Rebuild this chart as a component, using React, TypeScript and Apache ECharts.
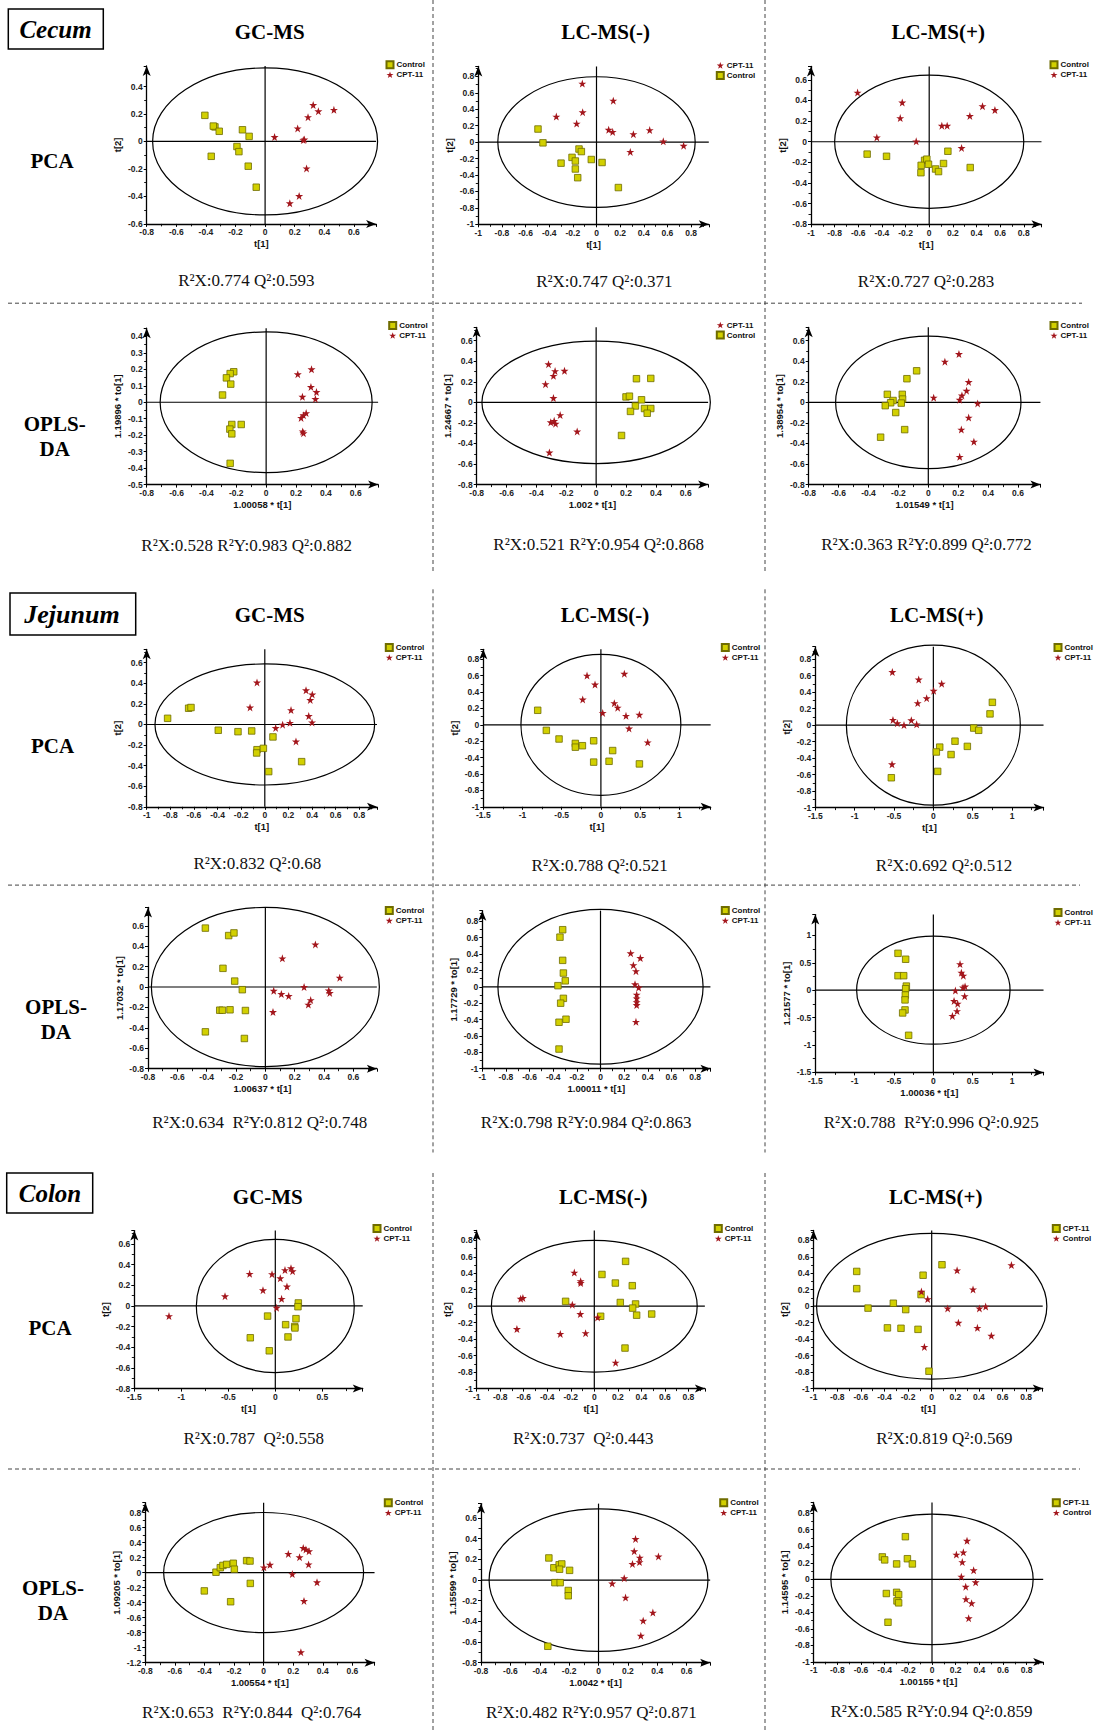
import React, { useEffect, useRef } from "react";
import * as echarts from "echarts";

// ---------------- tick label sets ----------------
const ticksM08to06 = [-0.8, -0.6, -0.4, -0.2, 0, 0.2, 0.4, 0.6];
const ticksM1to08 = [-1, -0.8, -0.6, -0.4, -0.2, 0, 0.2, 0.4, 0.6, 0.8];
const ticksM15to1 = [-1.5, -1, -0.5, 0, 0.5, 1];
const ticksM15to05 = [-1.5, -1, -0.5, 0, 0.5];
const ticksM06to04 = [-0.6, -0.4, -0.2, 0, 0.2, 0.4];
const ticksM05to04 = [-0.5, -0.4, -0.3, -0.2, -0.1, 0, 0.1, 0.2, 0.3, 0.4];
const ticksM12to08 = [-1.2, -1, -0.8, -0.6, -0.4, -0.2, 0, 0.2, 0.4, 0.6, 0.8];

// ---------------- text ----------------
const sections = ["Cecum", "Jejunum", "Colon"];
const platforms = ["GC-MS", "LC-MS(-)", "LC-MS(+)"];
const statsText = [
  "R²X:0.774 Q²:0.593", "R²X:0.528 R²Y:0.983 Q²:0.882",
  "R²X:0.747 Q²:0.371", "R²X:0.521 R²Y:0.954 Q²:0.868",
  "R²X:0.727 Q²:0.283", "R²X:0.363 R²Y:0.899 Q²:0.772",
  "R²X:0.832 Q²:0.68", "R²X:0.634  R²Y:0.812 Q²:0.748",
  "R²X:0.788 Q²:0.521", "R²X:0.798 R²Y:0.984 Q²:0.863",
  "R²X:0.692 Q²:0.512", "R²X:0.788  R²Y:0.996 Q²:0.925",
  "R²X:0.787  Q²:0.558", "R²X:0.653  R²Y:0.844  Q²:0.764",
  "R²X:0.737  Q²:0.443", "R²X:0.482 R²Y:0.957 Q²:0.871",
  "R²X:0.819 Q²:0.569", "R²X:0.585 R²Y:0.94 Q²:0.859",
];

// ---------------- scores (t[1], t[2]/to[1]) ----------------
// Cecum GC-MS
const cecumGcPcaControl = [[-0.407,0.19],[-0.339,0.106],[-0.35,0.112],[-0.31,0.074],[-0.153,0.085],[-0.108,0.037],[-0.364,-0.108],[-0.19,-0.037],[-0.177,-0.074],[-0.114,-0.18],[-0.06,-0.333]];
const cecumGcPcaCpt = [[0.325,0.265],[0.36,0.22],[0.465,0.23],[0.29,0.177],[0.22,0.095],[0.064,0.032],[0.258,0.01],[0.265,0.015],[0.28,-0.196],[0.23,-0.397],[0.167,-0.45]];
const cecumGcOplsControl = [[-0.217,0.185],[-0.241,0.174],[-0.266,0.148],[-0.237,0.11],[-0.292,0.044],[-0.23,-0.135],[-0.167,-0.135],[-0.243,-0.163],[-0.23,-0.192],[-0.241,-0.371]];
const cecumGcOplsCpt = [[0.212,0.17],[0.304,0.2],[0.3,0.093],[0.337,0.062],[0.243,0.033],[0.33,0.02],[0.268,-0.066],[0.25,-0.079],[0.234,-0.095],[0.245,-0.177],[0.25,-0.188]];
// Cecum LC-MS(-)
const cecumNegPcaCpt = [[-0.12,0.712],[0.142,0.504],[-0.34,0.31],[-0.117,0.363],[-0.168,0.225],[0.103,0.15],[0.137,0.124],[0.312,0.097],[0.45,0.146],[0.565,0.009],[0.737,-0.044],[0.286,-0.119]];
const cecumNegPcaControl = [[-0.495,0.159],[-0.453,-0.009],[-0.148,-0.084],[-0.128,-0.115],[-0.207,-0.186],[-0.179,-0.23],[-0.3,-0.256],[-0.179,-0.327],[-0.159,-0.433],[-0.044,-0.212],[0.047,-0.248],[0.185,-0.553]];
const cecumNegOplsCpt = [[-0.319,0.371],[-0.275,0.304],[-0.212,0.307],[-0.286,0.258],[-0.339,0.177],[-0.286,0.042],[-0.241,-0.124],[-0.304,-0.194],[-0.281,-0.18],[-0.272,-0.208],[-0.127,-0.283],[-0.313,-0.488]];
const cecumNegOplsControl = [[0.27,0.23],[0.366,0.233],[0.2,0.053],[0.223,0.06],[0.304,0.025],[0.263,-0.035],[0.23,-0.088],[0.324,-0.06],[0.366,-0.06],[0.342,-0.106],[0.17,-0.322]];
// Cecum LC-MS(+)
const cecumPosPcaCpt = [[-0.606,0.476],[-0.228,0.38],[-0.245,0.229],[-0.443,0.042],[-0.11,0.004],[0.451,0.345],[0.556,0.307],[0.344,0.25],[0.107,0.155],[0.152,0.155],[0.274,-0.06]];
const cecumPosPcaControl = [[-0.525,-0.12],[-0.361,-0.141],[0.158,-0.092],[-0.039,-0.18],[-0.02,-0.169],[-0.068,-0.229],[-0.006,-0.218],[0.121,-0.211],[0.054,-0.264],[0.079,-0.289],[-0.07,-0.3],[0.347,-0.25]];
const cecumPosOplsControl = [[-0.078,0.307],[-0.143,0.23],[-0.274,0.078],[-0.174,0.078],[-0.236,0.018],[-0.172,0.032],[-0.252,-0.004],[-0.288,-0.032],[-0.181,-0.007],[-0.218,-0.099],[-0.158,-0.265],[-0.319,-0.339]];
const cecumPosOplsCpt = [[0.205,0.47],[0.111,0.396],[0.27,0.198],[0.256,0.113],[0.225,0.067],[0.21,0.025],[0.036,0.046],[0.33,-0.011],[0.27,-0.148],[0.221,-0.265],[0.305,-0.382],[0.21,-0.53]];
// Jejunum GC-MS
const jejunumGcPcaControl = [[-0.823,0.06],[-0.645,0.158],[-0.625,0.165],[-0.394,-0.056],[-0.227,-0.07],[-0.111,-0.063],[0.069,-0.121],[-0.066,-0.245],[-0.069,-0.277],[-0.012,-0.232],[0.312,-0.361],[0.033,-0.458]];
const jejunumGcPcaCpt = [[-0.066,0.408],[-0.125,0.165],[0.349,0.332],[0.402,0.292],[0.385,0.238],[0.222,0.14],[0.372,0.082],[0.4,0.02],[0.213,0.016],[0.151,-0.002],[0.092,-0.034],[0.264,-0.165]];
const jejunumGcOplsControl = [[-0.409,0.577],[-0.25,0.504],[-0.214,0.53],[-0.289,0.183],[-0.209,0.058],[-0.157,-0.026],[-0.311,-0.227],[-0.293,-0.227],[-0.241,-0.223],[-0.136,-0.23],[-0.409,-0.439],[-0.143,-0.504]];
const jejunumGcOplsCpt = [[0.116,0.281],[0.341,0.417],[0.507,0.091],[0.057,-0.037],[0.109,-0.069],[0.159,-0.088],[0.264,0],[0.309,-0.128],[0.293,-0.172],[0.432,-0.033],[0.439,-0.058],[0.052,-0.245]];
// Jejunum LC-MS(-)
const jejunumNegPcaControl = [[-0.806,0.177],[-0.696,-0.068],[-0.534,-0.173],[-0.326,-0.227],[-0.326,-0.273],[-0.236,-0.255],[-0.092,-0.195],[0.15,-0.314],[0.104,-0.445],[-0.092,-0.455],[0.491,-0.477]];
const jejunumNegPcaCpt = [[-0.177,0.6],[0.299,0.623],[-0.075,0.491],[-0.232,0.309],[0.171,0.264],[0.214,0.209],[0.023,0.145],[0.32,0.109],[0.491,0.123],[0.359,-0.045],[0.597,-0.214]];
const jejunumNegOplsControl = [[-0.32,0.697],[-0.343,0.606],[-0.32,0.323],[-0.314,0.168],[-0.298,0.073],[-0.36,0.014],[-0.314,-0.141],[-0.337,-0.2],[-0.292,-0.396],[-0.351,-0.433],[-0.351,-0.76]];
const jejunumNegOplsCpt = [[0.255,0.41],[0.337,0.351],[0.278,0.264],[0.3,0.191],[0.292,0.032],[0.323,-0.009],[0.306,-0.096],[0.306,-0.141],[0.306,-0.187],[0.306,-0.223],[0.3,-0.428]];
// Jejunum LC-MS(+)
const jejunumPosPcaCpt = [[-0.521,0.643],[-0.186,0.552],[0.106,0.502],[0.004,0.416],[-0.085,0.326],[-0.199,0.267],[-0.513,0.063],[-0.458,0.023],[-0.373,0],[-0.28,0.059],[-0.212,0.009],[-0.525,-0.475]];
const jejunumPosPcaControl = [[0.75,0.276],[0.72,0.136],[0.513,-0.036],[0.576,-0.063],[0.275,-0.195],[0.432,-0.258],[0.081,-0.267],[0.038,-0.326],[0.225,-0.357],[0.055,-0.561],[-0.534,-0.638]];
const jejunumPosOplsControl = [[-0.449,0.673],[-0.352,0.565],[-0.449,0.265],[-0.377,0.265],[-0.343,0.075],[-0.352,0.027],[-0.356,-0.088],[-0.36,-0.177],[-0.36,-0.36],[-0.39,-0.415],[-0.314,-0.823]];
const jejunumPosOplsCpt = [[0.339,0.476],[0.356,0.32],[0.381,0.265],[0.377,0.048],[0.403,0.068],[0.28,-0.007],[0.398,-0.109],[0.263,-0.197],[0.309,-0.245],[0.301,-0.381],[0.242,-0.469]];
// Colon GC-MS
const colonGcPcaCpt = [[-1.131,-0.098],[-0.535,0.094],[-0.273,0.311],[-0.131,0.152],[-0.035,0.308],[0.053,0.268],[0.103,0.347],[0.167,0.365],[0.184,0.336],[0.124,0.188],[0.067,0.069],[0.014,-0.018]];
const colonGcPcaControl = [[0.245,0.029],[0.241,-0.007],[0.22,-0.123],[0.206,-0.199],[0.209,-0.213],[0.11,-0.181],[0.135,-0.3],[-0.082,-0.098],[-0.266,-0.308],[-0.064,-0.434]];
const colonGcOplsControl = [[-0.401,-0.244],[-0.322,0.005],[-0.293,0.065],[-0.275,0.095],[-0.25,0.109],[-0.205,0.124],[-0.198,0.045],[-0.115,0.159],[-0.092,0.154],[-0.09,-0.144],[-0.223,-0.388]];
const colonGcOplsCpt = [[0.167,0.249],[0.268,0.328],[0.286,0.308],[0.307,0.284],[0.243,0.204],[0.304,0.109],[0.043,0.104],[0.002,0.07],[0.194,-0.02],[0.361,-0.129],[0.273,-0.378],[0.252,-1.06]];
// Colon LC-MS(-)
const colonNegPcaControl = [[0.266,0.544],[0.065,0.385],[0.179,0.281],[0.323,0.249],[-0.244,0.059],[0.221,0.045],[0.351,0.027],[0.326,-0.023],[0.36,-0.109],[0.488,-0.095],[0.054,-0.122],[0.261,-0.508]];
const colonNegPcaCpt = [[-0.17,0.408],[-0.116,0.304],[-0.116,0.281],[-0.626,0.091],[-0.607,0.1],[-0.187,0.018],[-0.119,-0.095],[0.028,-0.136],[-0.658,-0.277],[-0.289,-0.336],[-0.074,-0.327],[0.181,-0.685]];
const colonNegOplsControl = [[-0.338,0.214],[-0.304,0.119],[-0.268,0.148],[-0.25,0.156],[-0.265,0.105],[-0.197,0.094],[-0.297,-0.025],[-0.261,-0.025],[-0.206,-0.101],[-0.206,-0.152],[-0.345,-0.641]];
const colonNegOplsCpt = [[0.252,0.398],[0.243,0.279],[0.408,0.228],[0.281,0.217],[0.279,0.174],[0.231,0.156],[0.175,0.018],[0.093,-0.033],[0.184,-0.17],[0.37,-0.315],[0.304,-0.394],[0.288,-0.539]];
// Colon LC-MS(+) (legend: squares = CPT-11, stars = Control)
const colonPosPcaSquares = [[-0.635,0.422],[-0.635,0.213],[0.087,0.503],[-0.073,0.376],[-0.09,0.141],[-0.539,-0.023],[-0.325,0.036],[-0.22,-0.041],[-0.375,-0.263],[-0.26,-0.268],[-0.116,-0.281],[-0.023,-0.789]];
const colonPosPcaStars = [[0.215,0.435],[0.675,0.499],[0.35,0.204],[-0.087,0.177],[-0.034,0.086],[0.135,-0.027],[0.404,-0.027],[0.457,-0.005],[0.226,-0.2],[0.387,-0.263],[0.505,-0.358],[-0.062,-0.494]];
const colonPosOplsSquares = [[-0.225,0.516],[-0.42,0.271],[-0.4,0.235],[-0.208,0.249],[-0.166,0.186],[-0.299,0.186],[-0.386,-0.172],[-0.299,-0.158],[-0.282,-0.186],[-0.296,-0.262],[-0.282,-0.285],[-0.372,-0.52]];
const colonPosOplsStars = [[0.296,0.466],[0.265,0.326],[0.206,0.299],[0.256,0.208],[0.352,0.109],[0.248,0.032],[0.369,-0.036],[0.285,-0.09],[0.287,-0.24],[0.335,-0.29],[0.31,-0.471]];

// Hotelling T2 ellipse semi-axes [t1, t2]
const ellipses = [
  [0.76, 0.535], [0.71, 0.427], [0.835, 0.795], [0.765, 0.595], [0.8, 0.645], [0.62, 0.645],
  [0.93, 0.588], [0.777, 0.78], [1.02, 0.86], [0.868, 0.945], [1.105, 0.97], [0.975, 0.985],
  [0.84, 0.645], [0.676, 0.8], [0.875, 0.8], [0.745, 0.69], [0.975, 0.885], [0.855, 0.79],
];

// axis ranges [min, max, interval]
const xRanges = [
  [-0.8, 0.75, 0.2], [-0.8, 0.75, 0.2], [-1, 0.95, 0.2], [-0.8, 0.75, 0.2], [-1, 0.95, 0.2], [-0.8, 0.75, 0.2],
  [-1, 0.95, 0.2], [-0.8, 0.76, 0.2], [-1.5, 1.4, 0.5], [-1, 0.93, 0.2], [-1.5, 1.4, 0.5], [-1.5, 1.4, 0.5],
  [-1.5, 0.93, 0.5], [-0.8, 0.75, 0.2], [-1, 0.94, 0.2], [-0.8, 0.76, 0.2], [-1, 0.94, 0.2], [-1, 0.94, 0.2],
];
const yRanges = [
  [-0.6, 0.55, 0.2], [-0.5, 0.45, 0.1], [-1, 0.92, 0.2], [-0.8, 0.73, 0.2], [-0.8, 0.73, 0.2], [-0.8, 0.73, 0.2],
  [-0.8, 0.73, 0.2], [-0.8, 0.78, 0.2], [-1, 0.92, 0.2], [-1, 0.93, 0.2], [-1, 0.95, 0.2], [-1.5, 1.38, 0.5],
  [-0.8, 0.73, 0.2], [-1.2, 0.93, 0.2], [-1, 0.92, 0.2], [-0.8, 0.74, 0.2], [-1, 0.92, 0.2], [-1, 0.93, 0.2],
];
const xTickSets = [
  ticksM08to06, ticksM08to06, ticksM1to08, ticksM08to06, ticksM1to08, ticksM08to06,
  ticksM1to08, ticksM08to06, ticksM15to1, ticksM1to08, ticksM15to1, ticksM15to1,
  ticksM15to05, ticksM08to06, ticksM1to08, ticksM08to06, ticksM1to08, ticksM1to08,
];
const yTickSets = [
  ticksM06to04, ticksM05to04, ticksM1to08, ticksM08to06, ticksM08to06, ticksM08to06,
  ticksM08to06, ticksM08to06, ticksM1to08, ticksM1to08, ticksM1to08, ticksM15to1,
  ticksM08to06, ticksM12to08, ticksM1to08, ticksM08to06, ticksM1to08, ticksM1to08,
];
const oplsScales = [
  ["1.00058", "1.19896"], ["1.002", "1.24667"], ["1.01549", "1.38954"],
  ["1.00637", "1.17032"], ["1.00011", "1.17729"], ["1.00036", "1.21577"],
  ["1.00554", "1.09205"], ["1.0042", "1.15599"], ["1.00155", "1.14595"],
];

type PanelData = { sq: number[][]; st: number[][]; sqName: string; stName: string; starFirst: boolean };
const panelData: PanelData[] = [
  { sq: cecumGcPcaControl, st: cecumGcPcaCpt, sqName: "Control", stName: "CPT-11", starFirst: false },
  { sq: cecumGcOplsControl, st: cecumGcOplsCpt, sqName: "Control", stName: "CPT-11", starFirst: false },
  { sq: cecumNegPcaControl, st: cecumNegPcaCpt, sqName: "Control", stName: "CPT-11", starFirst: true },
  { sq: cecumNegOplsControl, st: cecumNegOplsCpt, sqName: "Control", stName: "CPT-11", starFirst: true },
  { sq: cecumPosPcaControl, st: cecumPosPcaCpt, sqName: "Control", stName: "CPT-11", starFirst: false },
  { sq: cecumPosOplsControl, st: cecumPosOplsCpt, sqName: "Control", stName: "CPT-11", starFirst: false },
  { sq: jejunumGcPcaControl, st: jejunumGcPcaCpt, sqName: "Control", stName: "CPT-11", starFirst: false },
  { sq: jejunumGcOplsControl, st: jejunumGcOplsCpt, sqName: "Control", stName: "CPT-11", starFirst: false },
  { sq: jejunumNegPcaControl, st: jejunumNegPcaCpt, sqName: "Control", stName: "CPT-11", starFirst: false },
  { sq: jejunumNegOplsControl, st: jejunumNegOplsCpt, sqName: "Control", stName: "CPT-11", starFirst: false },
  { sq: jejunumPosPcaControl, st: jejunumPosPcaCpt, sqName: "Control", stName: "CPT-11", starFirst: false },
  { sq: jejunumPosOplsControl, st: jejunumPosOplsCpt, sqName: "Control", stName: "CPT-11", starFirst: false },
  { sq: colonGcPcaControl, st: colonGcPcaCpt, sqName: "Control", stName: "CPT-11", starFirst: false },
  { sq: colonGcOplsControl, st: colonGcOplsCpt, sqName: "Control", stName: "CPT-11", starFirst: false },
  { sq: colonNegPcaControl, st: colonNegPcaCpt, sqName: "Control", stName: "CPT-11", starFirst: false },
  { sq: colonNegOplsControl, st: colonNegOplsCpt, sqName: "Control", stName: "CPT-11", starFirst: false },
  { sq: colonPosPcaSquares, st: colonPosPcaStars, sqName: "CPT-11", stName: "Control", starFirst: false },
  { sq: colonPosOplsSquares, st: colonPosOplsStars, sqName: "CPT-11", stName: "Control", starFirst: false },
];

// ---------------- layout (pixels) ----------------
// x0: pixel of x-min, y0: pixel of y-min, pixels per unit, legend icon centre, stats centre
const layout = [
  { x0: 146.7, y0: 223.9, xp: 148, yp: 137.4, lx: 389, ly: 64.3, sx: 246.3, sy: 280.3 },
  { x0: 146.7, y0: 484.6, xp: 149.3, yp: 164.7, lx: 391.7, ly: 325, sx: 246.7, sy: 545.3 },
  { x0: 478.3, y0: 224.3, xp: 118.2, yp: 82.2, lx: 719.3, ly: 65.4, sx: 604.3, sy: 281 },
  { x0: 476.7, y0: 484.6, xp: 149.3, yp: 102.8, lx: 719.3, ly: 325, sx: 598.7, sy: 544.2 },
  { x0: 811, y0: 224.3, xp: 118.2, yp: 103.2, lx: 1053, ly: 64.3, sx: 926, sy: 281.4 },
  { x0: 808.7, y0: 484.6, xp: 149.5, yp: 102.8, lx: 1053, ly: 325, sx: 926.5, sy: 544.2 },
  { x0: 146.7, y0: 806.8, xp: 118.1, yp: 102.9, lx: 388.3, ly: 647, sx: 257.3, sy: 863.5 },
  { x0: 148, y0: 1068.7, xp: 146.7, yp: 102.1, lx: 388.3, ly: 910.1, sx: 259.7, sy: 1122.8 },
  { x0: 483.3, y0: 806.8, xp: 78.4, yp: 82.0, lx: 724.3, ly: 647, sx: 599.7, sy: 865.3 },
  { x0: 482.3, y0: 1068.7, xp: 118.2, yp: 81.9, lx: 724.3, ly: 910.1, sx: 586.2, sy: 1122.8 },
  { x0: 815.3, y0: 807.6, xp: 78.7, yp: 82.5, lx: 1057, ly: 647, sx: 944, sy: 865.3 },
  { x0: 815.3, y0: 1072.4, xp: 78.7, yp: 54.8, lx: 1057, ly: 912, sx: 931.2, sy: 1122.8 },
  { x0: 134.3, y0: 1388.6, xp: 94, yp: 103.3, lx: 376, ly: 1228, sx: 253.7, sy: 1438.4 },
  { x0: 145.3, y0: 1662.7, xp: 147.9, yp: 75.1, lx: 387.3, ly: 1502.3, sx: 251.7, sy: 1712.3 },
  { x0: 476.7, y0: 1388.6, xp: 117.6, yp: 82.4, lx: 717.3, ly: 1228, sx: 583.3, sy: 1438.4 },
  { x0: 481, y0: 1662.7, xp: 146.9, yp: 103.3, lx: 722.7, ly: 1502.3, sx: 591.3, sy: 1712.3 },
  { x0: 813.6, y0: 1388.6, xp: 118.1, yp: 82.4, lx: 1055.3, ly: 1228, sx: 944.3, sy: 1438.4 },
  { x0: 813.7, y0: 1661.9, xp: 118.3, yp: 82.6, lx: 1055.3, ly: 1502.3, sx: 931.5, sy: 1711.2 },
];
const sectionBoxes = [
  { x: 8.3, y: 9, w: 95, h: 40, cx: 55.5, cy: 29, fs: 25 },
  { x: 10, y: 593, w: 125.7, h: 42, cx: 72, cy: 614, fs: 26 },
  { x: 6.7, y: 1173, w: 86, h: 40, cx: 50, cy: 1193.8, fs: 25 },
];
const titleY = [32.2, 614.8, 1197.4];
const titleX = [[269.7, 605.7, 938.2], [269.7, 605, 936.7], [267.8, 603.3, 935.7]];
const pcaLabelPos = [[52, 161.4], [52.5, 746], [50, 1328.1]];
const oplsLabelPos = [[54.7, 423.5], [56, 1007], [53, 1588]];

const STAR = "path://M50,2 L61.8,36.2 L97.6,36.2 L68.6,57.4 L79.4,91.6 L50,70.4 L20.6,91.6 L31.4,57.4 L2.4,36.2 L38.2,36.2 Z";
const SQ_FILL = "#d2d000";
const SQ_BORDER = "#6f6c00";
const STAR_COLOR = "#a3161c";
const SANS = '"Liberation Sans", Arial, sans-serif';
const SERIF = '"Liberation Serif", "Times New Roman", serif';

const fmtTick = (ticks: number[]) => (v: number) =>
  ticks.some((t) => Math.abs(t - v) < 1e-6) ? String(+v.toFixed(2)) : "";

const renderEllipse = (params: any, api: any) => {
  const c = api.coord([0, 0]);
  const s = api.size([api.value(0), api.value(1)]);
  const cs = params.coordSys;
  const st = { stroke: "#000", lineWidth: 1.2, fill: "none" };
  return {
    type: "group",
    children: [
      { type: "line", shape: { x1: c[0], y1: cs.y, x2: c[0], y2: cs.y + cs.height }, style: st },
      { type: "line", shape: { x1: cs.x, y1: c[1], x2: cs.x + cs.width, y2: c[1] }, style: st },
      { type: "ellipse", shape: { cx: c[0], cy: c[1], rx: s[0], ry: s[1] }, style: st },
    ],
  };
};

function buildOption() {
  const grid: any[] = [], xAxis: any[] = [], yAxis: any[] = [], series: any[] = [], legend: any[] = [];
  const elements: any[] = [];
  panelData.forEach((p, i) => {
    const L = layout[i];
    const [xmin, xmax, xint] = xRanges[i];
    const [ymin, ymax, yint] = yRanges[i];
    const isOpls = i % 2 === 1;
    const sc = oplsScales[Math.floor(i / 2)];
    const h = (ymax - ymin) * L.yp;
    grid.push({ left: L.x0, top: L.y0 - h, width: (xmax - xmin) * L.xp, height: h });
    const common = {
      type: "value", gridIndex: i, nameLocation: "middle",
      nameTextStyle: { fontFamily: SANS, fontSize: 9.5, fontWeight: "bold", color: "#111" },
      axisLine: { show: true, onZero: false, symbol: ["none", "arrow"], symbolSize: [6, 10], lineStyle: { color: "#000", width: 1.3 } },
      axisTick: { show: true, length: 3, lineStyle: { color: "#000", width: 1 } },
      minorTick: { show: true, splitNumber: 2, length: 2.5, lineStyle: { color: "#000", width: 0.9 } },
      splitLine: { show: false },
    };
    xAxis.push({
      ...common, min: xmin, max: xmax, interval: xint,
      name: isOpls ? `${sc[0]} * t[1]` : "t[1]", nameGap: 15,
      axisLabel: { formatter: fmtTick(xTickSets[i]), fontFamily: SANS, fontSize: 8.5, fontWeight: "bold", color: "#222", margin: 4, showMaxLabel: false },
    });
    yAxis.push({
      ...common, min: ymin, max: ymax, interval: yint,
      name: isOpls ? `${sc[1]} * to[1]` : "t[2]", nameGap: 24,
      axisLabel: { formatter: fmtTick(yTickSets[i]), fontFamily: SANS, fontSize: 8.5, fontWeight: "bold", color: "#222", margin: 4, showMaxLabel: false },
    });
    series.push({
      type: "custom", xAxisIndex: i, yAxisIndex: i, data: [ellipses[i]], renderItem: renderEllipse, z: 1, silent: true, clip: false,
    });
    const sqKey = `${i}|${p.sqName}`;
    const stKey = `${i}|${p.stName}`;
    series.push({
      type: "scatter", name: sqKey, xAxisIndex: i, yAxisIndex: i, data: p.sq, symbol: "rect", symbolSize: 6.5, z: 3,
      itemStyle: { color: SQ_FILL, borderColor: SQ_BORDER, borderWidth: 0.8, opacity: 1 },
    });
    series.push({
      type: "scatter", name: stKey, xAxisIndex: i, yAxisIndex: i, data: p.st, symbol: STAR, symbolSize: 8, z: 4,
      itemStyle: { color: STAR_COLOR, opacity: 1 },
    });
    const sqItem = { name: sqKey, icon: "rect" };
    const stItem = { name: stKey, icon: STAR };
    legend.push({
      data: p.starFirst ? [stItem, sqItem] : [sqItem, stItem],
      left: L.lx - 3.5, top: L.ly - 4, orient: "vertical", padding: 0, itemGap: 1.5,
      itemWidth: 7, itemHeight: 7, selectedMode: false,
      formatter: (n: string) => n.split("|")[1],
      textStyle: { fontFamily: SANS, fontSize: 8, fontWeight: "bold", color: "#111", lineHeight: 8, padding: [0, 0, 0, -2] },
    });
    elements.push({
      type: "text", x: L.sx, y: L.sy,
      style: { text: statsText[i], font: `17px ${SERIF}`, fill: "#111", align: "center", verticalAlign: "middle", textAlign: "center", textVerticalAlign: "middle" },
    });
  });

  const dash = { stroke: "#444", lineWidth: 1, lineDash: [4, 3] };
  [433, 765].forEach((x) => {
    [[0, 572.5], [589.3, 1152.5], [1173, 1731]].forEach(([a, b]) =>
      elements.push({ type: "line", shape: { x1: x, y1: a, x2: x, y2: b }, style: dash, silent: true }));
  });
  [[303.2, 1082], [885.1, 1080], [1469, 1080]].forEach(([y, x2]) =>
    elements.push({ type: "line", shape: { x1: 8, y1: y, x2, y2: y }, style: dash, silent: true }));

  sections.forEach((s, k) => {
    const b = sectionBoxes[k];
    elements.push({ type: "rect", shape: { x: b.x, y: b.y, width: b.w, height: b.h }, style: { fill: "#fff", stroke: "#000", lineWidth: 1.5 } });
    elements.push({
      type: "text", x: b.cx, y: b.cy,
      style: { text: s, font: `italic bold ${b.fs}px ${SERIF}`, fill: "#000", align: "center", verticalAlign: "middle", textAlign: "center", textVerticalAlign: "middle" },
    });
    platforms.forEach((pl, j) => {
      elements.push({
        type: "text", x: titleX[k][j], y: titleY[k],
        style: { text: pl, font: `bold 21px ${SERIF}`, fill: "#000", align: "center", verticalAlign: "middle", textAlign: "center", textVerticalAlign: "middle" },
      });
    });
    const lab = (t: string, x: number, y: number) => ({
      type: "text", x, y,
      style: { text: t, font: `bold 21px ${SERIF}`, fill: "#000", align: "center", verticalAlign: "middle", textAlign: "center", textVerticalAlign: "middle" },
    });
    elements.push(lab("PCA", pcaLabelPos[k][0], pcaLabelPos[k][1]));
    elements.push(lab("OPLS-", oplsLabelPos[k][0], oplsLabelPos[k][1]));
    elements.push(lab("DA", oplsLabelPos[k][0], oplsLabelPos[k][1] + 25));
  });

  return {
    animation: false,
    backgroundColor: "#fff",
    grid, xAxis, yAxis, series, legend,
    graphic: { elements },
  };
}

export default function App() {
  const ref = useRef<HTMLDivElement>(null);
  useEffect(() => {
    const chart = echarts.init(ref.current!, null, { renderer: "svg" });
    chart.setOption(buildOption() as any);
    return () => chart.dispose();
  }, []);
  return (
    <div
      ref={ref}
      style={{ position: "absolute", left: 0, top: 0, width: 1096, height: 1731, background: "#fff" }}
    />
  );
}
